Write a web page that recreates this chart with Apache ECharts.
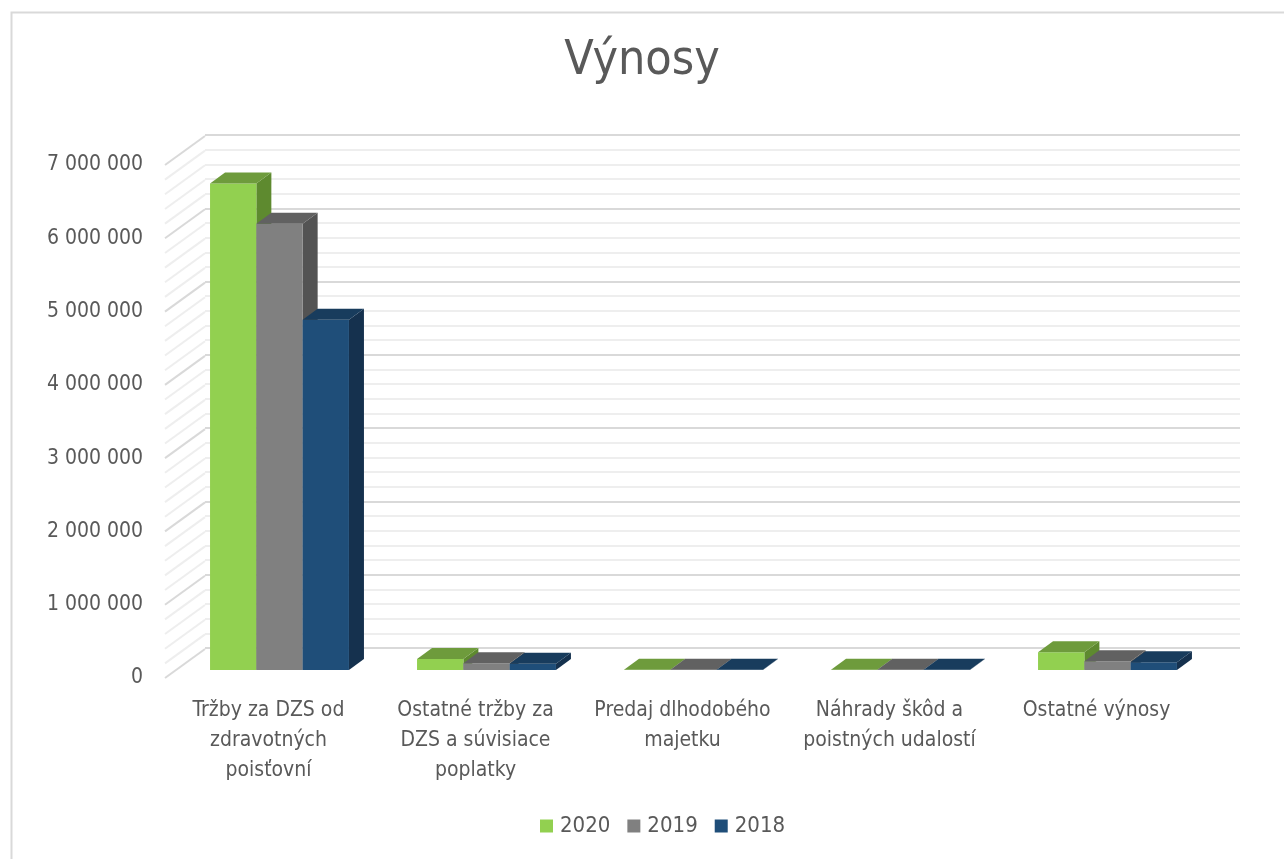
<!DOCTYPE html>
<html>
<head>
<meta charset="utf-8">
<script src="https://cdn.jsdelivr.net/npm/echarts@6/dist/echarts.min.js"></script>
<style>
html, body { margin: 0; padding: 0; background: #fff; }
#chart { width: 1284px; height: 859px; }
</style>
</head>
<body>
<div id="chart"></div>
<script>
var categories = [
  'Tržby za DZS od\nzdravotných\npoisťovní',
  'Ostatné tržby za\nDZS a súvisiace\npoplatky',
  'Predaj dlhodobého\nmajetku',
  'Náhrady škôd a\npoistných udalostí',
  'Ostatné výnosy'
];
var years = ['2020', '2019', '2018'];
var values2020 = [6640000, 150000, 3000, 3000, 241000];
var values2019 = [6090000, 91000, 2000, 2000, 119000];
var values2018 = [4780000, 86000, 2000, 2000, 105000];
var axisMax = 7000000;
var axisStep = 1000000;

var FONT = '"Liberation Sans Narrow", "DejaVu Sans Condensed", Roboto, sans-serif';
var TXT = '#595959';

// face colours: front, top, side
var faces = [
  ['#92D050', '#6E9B3C', '#5E8A2F'],
  ['#808080', '#616161', '#535353'],
  ['#1F4E79', '#183C5D', '#15314E']
];

// oblique depth: whole floor, bar front offset, bar thickness
var DEPTH = [40, -29];
var BAR_OFF = [11, -8];
var BAR_D = [15, -11];

function fmt(v) {
  return String(v).replace(/\B(?=(\d{3})+(?!\d))/g, ' ');
}

function barSeries(idx, vals) {
  return {
    name: years[idx],
    type: 'custom',
    xAxisIndex: 0, yAxisIndex: 0,
    itemStyle: { color: faces[idx][0] },
    encode: { x: 0, y: 1 },
    data: vals.map(function (v, i) { return [i, v]; }),
    renderItem: function (params, api) {
      var c = api.value(0);
      var top = api.coord([c, api.value(1)]);
      var base = api.coord([c, 0]);
      var catW = api.size([1, 0])[0];
      var w = catW * 0.2237;
      var cx = top[0] + BAR_OFF[0];
      var x = cx - 1.5 * w + idx * w;
      var yt = top[1] + BAR_OFF[1];
      var yb = base[1] + BAR_OFF[1];
      var dx = BAR_D[0], dy = BAR_D[1];
      var col = faces[idx];
      return {
        type: 'group',
        children: [
          { type: 'polygon', shape: { points: [[x + w, yt], [x + w + dx, yt + dy], [x + w + dx, yb + dy], [x + w, yb]] },
            style: { fill: col[2] } },
          { type: 'rect', shape: { x: x, y: yt, width: w, height: Math.max(yb - yt, 0) },
            style: { fill: col[0] } },
          { type: 'polygon', shape: { points: [[x, yt], [x + w, yt], [x + w + dx, yt + dy], [x + dx, yt + dy]] },
            style: { fill: col[1] } }
        ]
      };
    }
  };
}

// tick values for the left wall lines (major + 4 minor per step)
var wallTicks = [];
for (var t = 0; t <= axisMax; t += axisStep / 5) wallTicks.push([0, t]);

var chart = echarts.init(document.getElementById('chart'));
chart.setOption({
  backgroundColor: '#fff',
  animation: false,
  textStyle: { fontFamily: FONT },
  graphic: [{
    type: 'rect', left: 9, top: 10,
    shape: { width: 1300, height: 900 },
    style: { fill: 'none', stroke: '#D9D9D9', lineWidth: 2 },
    silent: true
  }],
  title: {
    text: 'Výnosy',
    left: 'center', top: 33,
    textStyle: { fontFamily: FONT, fontSize: 48, fontWeight: 'normal', color: TXT }
  },
  legend: {
    data: years,
    top: 810, left: 535,
    icon: 'rect', itemWidth: 13, itemHeight: 13, itemGap: 17,
    textStyle: { fontFamily: FONT, fontSize: 22, color: TXT, padding: [0, 0, 0, 2] }
  },
  grid: [
    { left: 165, top: 165, width: 1035, height: 513 },
    { left: 205, top: 135, width: 1035, height: 513 }
  ],
  xAxis: [
    {
      type: 'category', gridIndex: 0, data: categories,
      axisLine: { show: false }, axisTick: { show: false },
      axisLabel: { interval: 0, margin: 18, fontFamily: FONT, fontSize: 21, lineHeight: 30, color: TXT }
    },
    { type: 'value', gridIndex: 1, show: false, min: 0, max: 1 }
  ],
  yAxis: [
    {
      type: 'value', gridIndex: 0, min: 0, max: axisMax, interval: axisStep,
      axisLine: { show: false }, axisTick: { show: false }, splitLine: { show: false },
      axisLabel: { margin: 22, fontFamily: FONT, fontSize: 21, color: TXT, formatter: fmt }
    },
    {
      type: 'value', gridIndex: 1, min: 0, max: axisMax, interval: axisStep,
      axisLine: { show: false }, axisTick: { show: false }, axisLabel: { show: false },
      splitLine: { show: true, lineStyle: { color: '#D9D9D9', width: 2 } },
      minorTick: { show: false, splitNumber: 5 },
      minorSplitLine: { show: true, lineStyle: { color: '#EEEEEE', width: 2 } }
    }
  ],
  series: [
    {
      type: 'custom', name: 'wall', xAxisIndex: 0, yAxisIndex: 0,
      silent: true, z: 1,
      encode: { x: 0, y: 1 },
      data: wallTicks,
      renderItem: function (params, api) {
        var v = api.value(1);
        var p = api.coord([0, v]);
        var x0 = params.coordSys.x;
        var major = v % axisStep === 0;
        return {
          type: 'line',
          shape: { x1: x0, y1: p[1], x2: x0 + DEPTH[0], y2: p[1] + DEPTH[1] },
          style: { stroke: major ? '#D9D9D9' : '#EEEEEE', lineWidth: 2 }
        };
      }
    },
    barSeries(0, values2020),
    barSeries(1, values2019),
    barSeries(2, values2018)
  ]
});
</script>
</body>
</html>
